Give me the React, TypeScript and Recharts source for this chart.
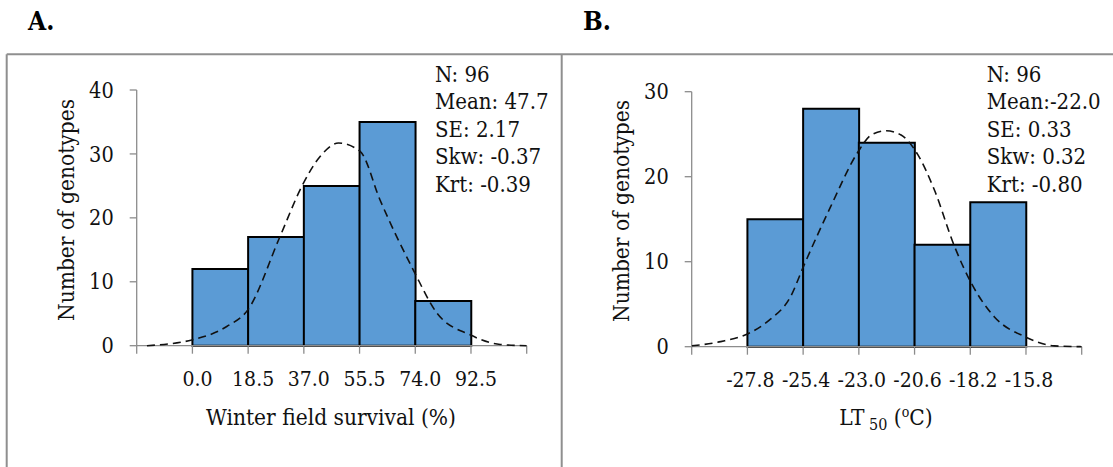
import { ComposedChart, Bar, Line, XAxis, YAxis } from 'recharts'

// panel A: winter field survival
const edgesA = [0, 18.5, 37.0, 55.5, 74.0, 92.5]
const countsA = [12, 17, 25, 35, 7]
const axisTicksA = [-18.5, 0, 18.5, 37.0, 55.5, 74.0, 92.5, 111.0]
const tickLabelsA = ['', '0.0', '18.5', '37.0', '55.5', '74.0', '92.5', '']
const fitXA = [-15.1, -0.2, 11.4, 18.4, 29.1, 36.3, 42.4, 48.5, 55.7, 62.3, 73.4, 81.2, 92.2, 102.2, 111.0]
const fitYA = [0, 0.9, 3.0, 5.6, 17.1, 24.9, 29.6, 31.7, 30.4, 22.8, 11.8, 5.1, 1.7, 0.2, 0]
const yTicksA = [0, 10, 20, 30, 40]
const statsA = ['N: 96', 'Mean: 47.7', 'SE: 2.17', 'Skw: -0.37', 'Krt: -0.39']

// panel B: LT50
const edgesB = [-27.8, -25.4, -23.0, -20.6, -18.2, -15.8]
const countsB = [15, 28, 24, 12, 17]
const axisTicksB = [-30.2, -27.8, -25.4, -23.0, -20.6, -18.2, -15.8, -13.4]
const tickLabelsB = ['', '-27.8', '-25.4', '-23.0', '-20.6', '-18.2', '-15.8', '']
const fitXB = [-30.2, -28.95, -27.8, -26.87, -25.94, -25.36, -24.21, -23.04, -22.47, -21.82, -21.18, -20.46, -19.74, -18.88, -18.16, -17.16, -15.87, -14.58, -13.4]
const fitYB = [0.1, 0.6, 1.5, 3.1, 5.9, 9.6, 16.5, 22.9, 24.9, 25.4, 24.9, 22.6, 18.4, 11.8, 7.5, 3.5, 1.2, 0.1, 0]
const yTicksB = [0, 10, 20, 30]
const statsB = ['N: 96', 'Mean:-22.0', 'SE: 0.33', 'Skw: 0.32', 'Krt: -0.80']

// no Times here: condensed DejaVu Serif is the closest width match
const SERIF = '"DejaVu Serif Condensed", "DejaVu Serif", serif'
const AXIS = '#8c8c8c'

const toBins = (edges: number[], counts: number[]) =>
  counts.map((c, i) => ({ x: (edges[i] + edges[i + 1]) / 2, count: c }))
const toFit = (xs: number[], ys: number[]) => xs.map((x, i) => ({ x, fit: ys[i] }))

const XTick = ({ x, y, payload, ticks, labels, shift }: any) => {
  const i = ticks.indexOf(payload.value)
  return (
    <text x={x + shift} y={y} dy="0.71em" textAnchor="middle" fill="#111" fontSize={21}
      fontFamily={SERIF} style={{ fontStretch: 'condensed' }}>
      {labels[i] ?? ''}
    </text>
  )
}

interface HistProps {
  left: number; width: number
  margin: { top: number; right: number; bottom: number; left: number }
  edges: number[]; counts: number[]
  axisTicks: number[]; tickLabels: string[]; shift: number
  fitX: number[]; fitY: number[]
  yTicks: number[]
}

function Histogram(p: HistProps) {
  const bins = toBins(p.edges, p.counts)
  const fit = toFit(p.fitX, p.fitY)
  const yMax = p.yTicks[p.yTicks.length - 1]
  const xDomain = [p.axisTicks[0], p.axisTicks[p.axisTicks.length - 1]]
  return (
    <div style={{ position: 'absolute', left: p.left, top: 0, width: p.width, height: 467 }}>
      <div style={{ position: 'absolute', left: 0, top: 0 }}>
        <ComposedChart width={p.width} height={467} data={bins} margin={p.margin}
          barCategoryGap={0} barGap={0}>
          <XAxis
            type="number" dataKey="x" height={40}
            domain={xDomain} allowDataOverflow ticks={p.axisTicks} interval={0}
            stroke={AXIS} strokeWidth={1.3} tickSize={8} tickMargin={17}
            tick={<XTick ticks={p.axisTicks} labels={p.tickLabels} shift={p.shift} />}
          />
          <YAxis
            type="number" domain={[0, yMax]} ticks={p.yTicks} width={80}
            stroke={AXIS} strokeWidth={1.3} tickSize={7} tickMargin={16}
            tick={{ fill: '#111', fontSize: 21.5, fontFamily: SERIF, style: { fontStretch: 'condensed' } }}
          />
          <Bar dataKey="count" fill="#5B9BD5" stroke="#000" strokeWidth={2} isAnimationActive={false} />
        </ComposedChart>
      </div>
      {/* fitted normal curve, same plot box, drawn over the bars */}
      <div style={{ position: 'absolute', left: 0, top: 0 }}>
        <ComposedChart width={p.width} height={467} data={fit} margin={p.margin}>
          <XAxis type="number" dataKey="x" height={40} domain={xDomain} allowDataOverflow
            ticks={p.axisTicks} axisLine={false} tickLine={false} tick={false} />
          <YAxis type="number" domain={[0, yMax]} ticks={p.yTicks} width={80}
            axisLine={false} tickLine={false} tick={false} />
          <Line dataKey="fit" type="monotone" stroke="#111" strokeWidth={1.6}
            strokeDasharray="8 5" dot={false} activeDot={false} isAnimationActive={false} />
        </ComposedChart>
      </div>
    </div>
  )
}

const textStyle = { fontFamily: SERIF, fontSize: 22.5, fill: '#111', style: { fontStretch: 'condensed' } }

export default function App() {
  return (
    <div style={{ position: 'absolute', left: 0, top: 0, width: 1113, height: 467, overflow: 'hidden', background: '#fff' }}>
      <svg width={1113} height={467} style={{ position: 'absolute', left: 0, top: 0 }}>
        <g stroke="#8f8f8f" strokeWidth={2}>
          <line x1={6.7} y1={54.3} x2={1113} y2={54.3} />
          <line x1={6.7} y1={54.3} x2={6.7} y2={467} />
          <line x1={561.7} y1={54.3} x2={561.7} y2={467} />
        </g>
        <text x={28} y={30} {...textStyle} fontSize={26} fontWeight="bold" fill="#000">A.</text>
        <text x={583} y={30} {...textStyle} fontSize={26} fontWeight="bold" fill="#000">B.</text>
        {statsA.map((s, i) => (
          <text key={'a' + i} x={435} y={81.7 + i * 27.5} {...textStyle} fontSize={22}>{s}</text>
        ))}
        {statsB.map((s, i) => (
          <text key={'b' + i} x={986.7} y={81.7 + i * 27.5} {...textStyle} fontSize={22}>{s}</text>
        ))}
        <text x={66} y={210} transform="rotate(-90 66 210)" textAnchor="middle" dominantBaseline="central" {...textStyle}>
          Number of genotypes
        </text>
        <text x={621} y={211} transform="rotate(-90 621 211)" textAnchor="middle" dominantBaseline="central" {...textStyle}>
          Number of genotypes
        </text>
        <text x={331} y={425} textAnchor="middle" {...textStyle}>Winter field survival (%)</text>
        <text x={886} y={425} textAnchor="middle" {...textStyle} style={{ whiteSpace: 'pre', fontStretch: 'condensed' }}>
          <tspan>LT</tspan>
          <tspan fontSize={16} dy={5}> 50</tspan>
          <tspan dy={-5}> (</tspan>
          <tspan fontSize={14} dy={-8}>o</tspan>
          <tspan dy={8}>C)</tspan>
        </text>
      </svg>
      <Histogram
        left={0} width={560}
        margin={{ top: 90, right: 33.3, bottom: 81.3, left: 56.7 }}
        edges={edgesA} counts={countsA}
        axisTicks={axisTicksA} tickLabels={tickLabelsA} shift={5}
        fitX={fitXA} fitY={fitYA} yTicks={yTicksA}
      />
      <Histogram
        left={560} width={553}
        margin={{ top: 91.7, right: 31.3, bottom: 80.3, left: 51.7 }}
        edges={edgesB} counts={countsB}
        axisTicks={axisTicksB} tickLabels={tickLabelsB} shift={3}
        fitX={fitXB} fitY={fitYB} yTicks={yTicksB}
      />
    </div>
  )
}
